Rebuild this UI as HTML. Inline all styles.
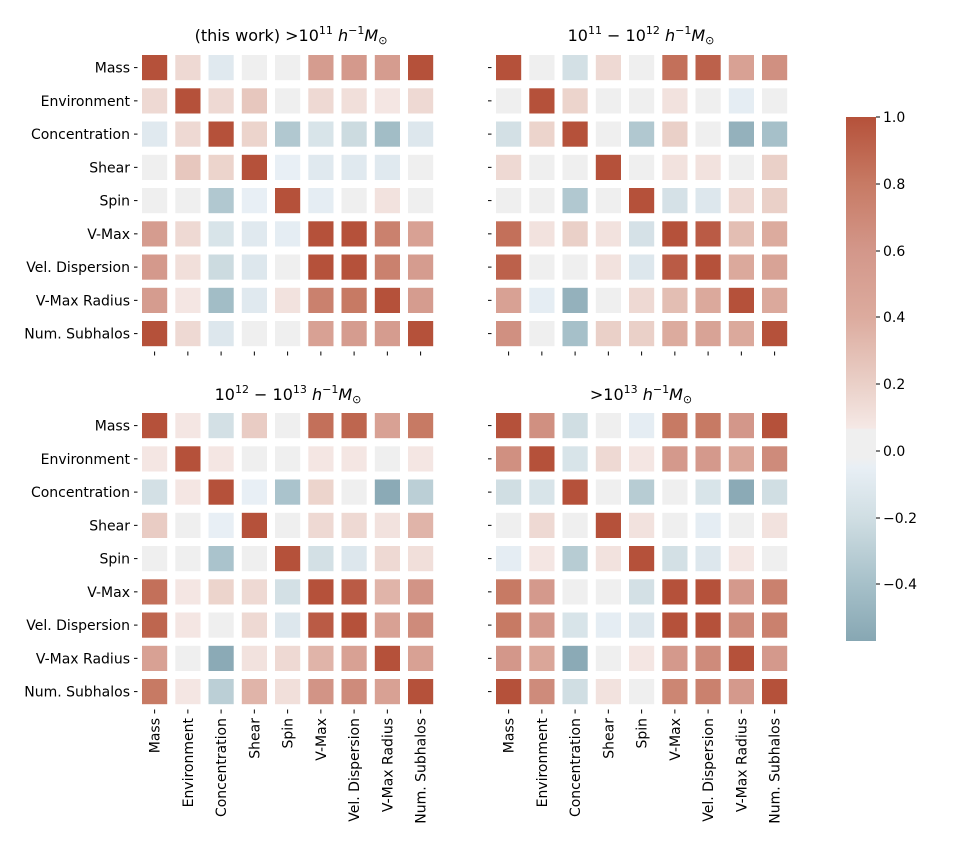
<!DOCTYPE html>
<html><head><meta charset="utf-8"><style>
body{margin:0;background:#fff;}
svg{display:block;font-family:"DejaVu Sans","Liberation Sans",sans-serif;}
</style></head><body>
<svg id="s" width="953" height="858" xmlns="http://www.w3.org/2000/svg">
<defs>
<linearGradient id="cb" x1="0" y1="0" x2="0" y2="1">
<stop offset="0" stop-color="#b5513a"/>
<stop offset="0.127" stop-color="#c77a64"/>
<stop offset="0.255" stop-color="#d3978a"/>
<stop offset="0.382" stop-color="#dcab9e"/>
<stop offset="0.51" stop-color="#ead0c8"/>
<stop offset="0.593" stop-color="#f5e8e5"/>
<stop offset="0.597" stop-color="#efefef"/>
<stop offset="0.65" stop-color="#efefef"/>
<stop offset="0.669" stop-color="#e8eff5"/>
<stop offset="0.765" stop-color="#d0dee3"/>
<stop offset="0.892" stop-color="#a6c0c9"/>
<stop offset="1" stop-color="#87a7b3"/>
</linearGradient>
</defs>
<g font-size="16" text-anchor="middle" fill="#000">
<text x="291" y="41">(this work)  &gt;10<tspan dy="-7" font-size="11">11</tspan><tspan dy="7"> </tspan><tspan font-style="italic">h</tspan><tspan dy="-7" font-size="11">−1</tspan><tspan dy="7" font-style="italic">M</tspan><tspan dy="3" font-size="11">⊙</tspan></text>
<text x="641" y="41">10<tspan dy="-7" font-size="11">11</tspan><tspan dy="7"> − 10</tspan><tspan dy="-7" font-size="11">12</tspan><tspan dy="7"> </tspan><tspan font-style="italic">h</tspan><tspan dy="-7" font-size="11">−1</tspan><tspan dy="7" font-style="italic">M</tspan><tspan dy="3" font-size="11">⊙</tspan></text>
<text x="288" y="400">10<tspan dy="-7" font-size="11">12</tspan><tspan dy="7"> − 10</tspan><tspan dy="-7" font-size="11">13</tspan><tspan dy="7"> </tspan><tspan font-style="italic">h</tspan><tspan dy="-7" font-size="11">−1</tspan><tspan dy="7" font-style="italic">M</tspan><tspan dy="3" font-size="11">⊙</tspan></text>
<text x="641" y="400">&gt;10<tspan dy="-7" font-size="11">13</tspan><tspan dy="7"> </tspan><tspan font-style="italic">h</tspan><tspan dy="-7" font-size="11">−1</tspan><tspan dy="7" font-style="italic">M</tspan><tspan dy="3" font-size="11">⊙</tspan></text>
</g>
<g id="cells"></g>
<g id="labs" font-size="14" fill="#000"></g>
<rect x="846" y="117" width="30" height="524" fill="url(#cb)"/>
<g font-size="14" fill="#000">
<line x1="876" y1="117" x2="880" y2="117" stroke="#000"/><text x="883" y="122">1.0</text>
<line x1="876" y1="184" x2="880" y2="184" stroke="#000"/><text x="883" y="189">0.8</text>
<line x1="876" y1="251" x2="880" y2="251" stroke="#000"/><text x="883" y="256">0.6</text>
<line x1="876" y1="317" x2="880" y2="317" stroke="#000"/><text x="883" y="322">0.4</text>
<line x1="876" y1="384" x2="880" y2="384" stroke="#000"/><text x="883" y="389">0.2</text>
<line x1="876" y1="451" x2="880" y2="451" stroke="#000"/><text x="883" y="456">0.0</text>
<line x1="876" y1="518" x2="880" y2="518" stroke="#000"/><text x="883" y="523">−0.2</text>
<line x1="876" y1="584" x2="880" y2="584" stroke="#000"/><text x="883" y="589">−0.4</text>
</g>
</svg>
<script>
var stops=[[-0.57,[135,167,179]],[-0.4,[166,192,201]],[-0.2,[208,222,227]],[-0.05,[232,239,245]],[-0.02,[239,239,239]],[0.04,[239,239,239]],[0.07,[245,232,229]],[0.2,[234,208,200]],[0.4,[220,171,158]],[0.6,[211,151,138]],[0.8,[199,122,100]],[1,[181,81,58]]];
function col(v){if(v<=stops[0][0])return 'rgb('+stops[0][1]+')';for(var i=1;i<stops.length;i++){if(v<=stops[i][0]){var a=stops[i-1],b=stops[i],t=(v-a[0])/(b[0]-a[0]);var c=a[1].map(function(x,k){return Math.round(x+(b[1][k]-x)*t)});return 'rgb('+c+')';}}return 'rgb(181,81,58)';}
var D=[
[[1,.15,-.1,0,0,.55,.58,.55,1],[.15,1,.15,.25,0,.15,.12,.08,.15],[-.1,.15,1,.18,-.35,-.15,-.22,-.42,-.12],[0,.25,.18,1,-.05,-.1,-.1,-.1,0],[0,0,-.35,-.05,1,-.07,0,.1,0],[.55,.15,-.15,-.1,-.07,1,1,.75,.5],[.58,.12,-.22,-.12,0,1,1,.75,.55],[.55,.08,-.42,-.1,.1,.75,.8,1,.55],[1,.15,-.12,0,0,.5,.55,.55,1]],
[[1,0,-.18,.15,0,.85,.92,.5,.65],[0,1,.18,0,0,.1,0,-.07,0],[-.18,.18,1,0,-.35,.2,0,-.5,-.4],[.15,0,0,1,0,.1,.1,0,.2],[0,0,-.35,0,1,-.17,-.12,.15,.2],[.85,.1,.2,.1,-.17,1,.95,.3,.4],[.92,0,0,.1,-.12,.95,1,.42,.48],[.5,-.07,-.5,0,.15,.3,.42,1,.42],[.65,0,-.4,.2,.2,.4,.48,.42,1]],
[[1,.08,-.18,.22,0,.85,.9,.5,.8],[.08,1,.08,0,0,.08,.08,0,.08],[-.18,.08,1,-.05,-.38,.18,0,-.55,-.3],[.22,0,-.05,1,0,.15,.15,.1,.35],[0,0,-.38,0,1,-.18,-.12,.15,.12],[.85,.08,.18,.15,-.18,1,.95,.35,.62],[.9,.08,0,.15,-.12,.95,1,.5,.68],[.5,0,-.55,.1,.15,.35,.5,1,.5],[.8,.08,-.3,.35,.12,.62,.68,.5,1]],
[[1,.65,-.2,0,-.07,.8,.8,.6,1],[.65,1,-.15,.15,.08,.58,.58,.45,.68],[-.2,-.15,1,0,-.32,0,-.15,-.55,-.2],[0,.15,0,1,.1,0,-.07,0,.1],[-.07,.08,-.32,.1,1,-.18,-.12,.08,0],[.8,.58,0,0,-.18,1,1,.58,.75],[.8,.58,-.15,-.07,-.12,1,1,.68,.75],[.6,.45,-.55,0,.08,.58,.68,1,.58],[1,.68,-.2,.1,0,.72,.75,.58,1]]];
var O=[[138,51],[492,51],[138,409],[492,409]];
var L=["Mass","Environment","Concentration","Shear","Spin","V-Max","Vel. Dispersion","V-Max Radius","Num. Subhalos"];
var P=33.25,h='',lb='';
for(var g=0;g<4;g++){var x0=O[g][0],y0=O[g][1];
for(var r=0;r<9;r++)for(var c=0;c<9;c++){h+='<rect x="'+(x0+c*P+4).toFixed(1)+'" y="'+(y0+r*P+4).toFixed(1)+'" width="25.2" height="25.2" fill="'+col(D[g][r][c])+'"/>';}
for(var i=0;i<9;i++){var yc=y0+i*P+16.6,xc=x0+i*P+16.6;
h+='<line x1="'+(x0-4)+'" y1="'+yc+'" x2="'+(x0-0.5)+'" y2="'+yc+'" stroke="#000"/>';
h+='<line x1="'+xc+'" y1="'+(y0+300.5)+'" x2="'+xc+'" y2="'+(y0+304.5)+'" stroke="#000"/>';
if(g==0||g==2)lb+='<text x="'+(x0-8)+'" y="'+(yc+5)+'" text-anchor="end">'+L[i]+'</text>';
if(g>=2)lb+='<text transform="translate('+(xc+5)+','+(y0+309)+') rotate(-90)" text-anchor="end">'+L[i]+'</text>';}}
document.getElementById('cells').innerHTML=h;document.getElementById('labs').innerHTML=lb;
</script>
</body></html>
